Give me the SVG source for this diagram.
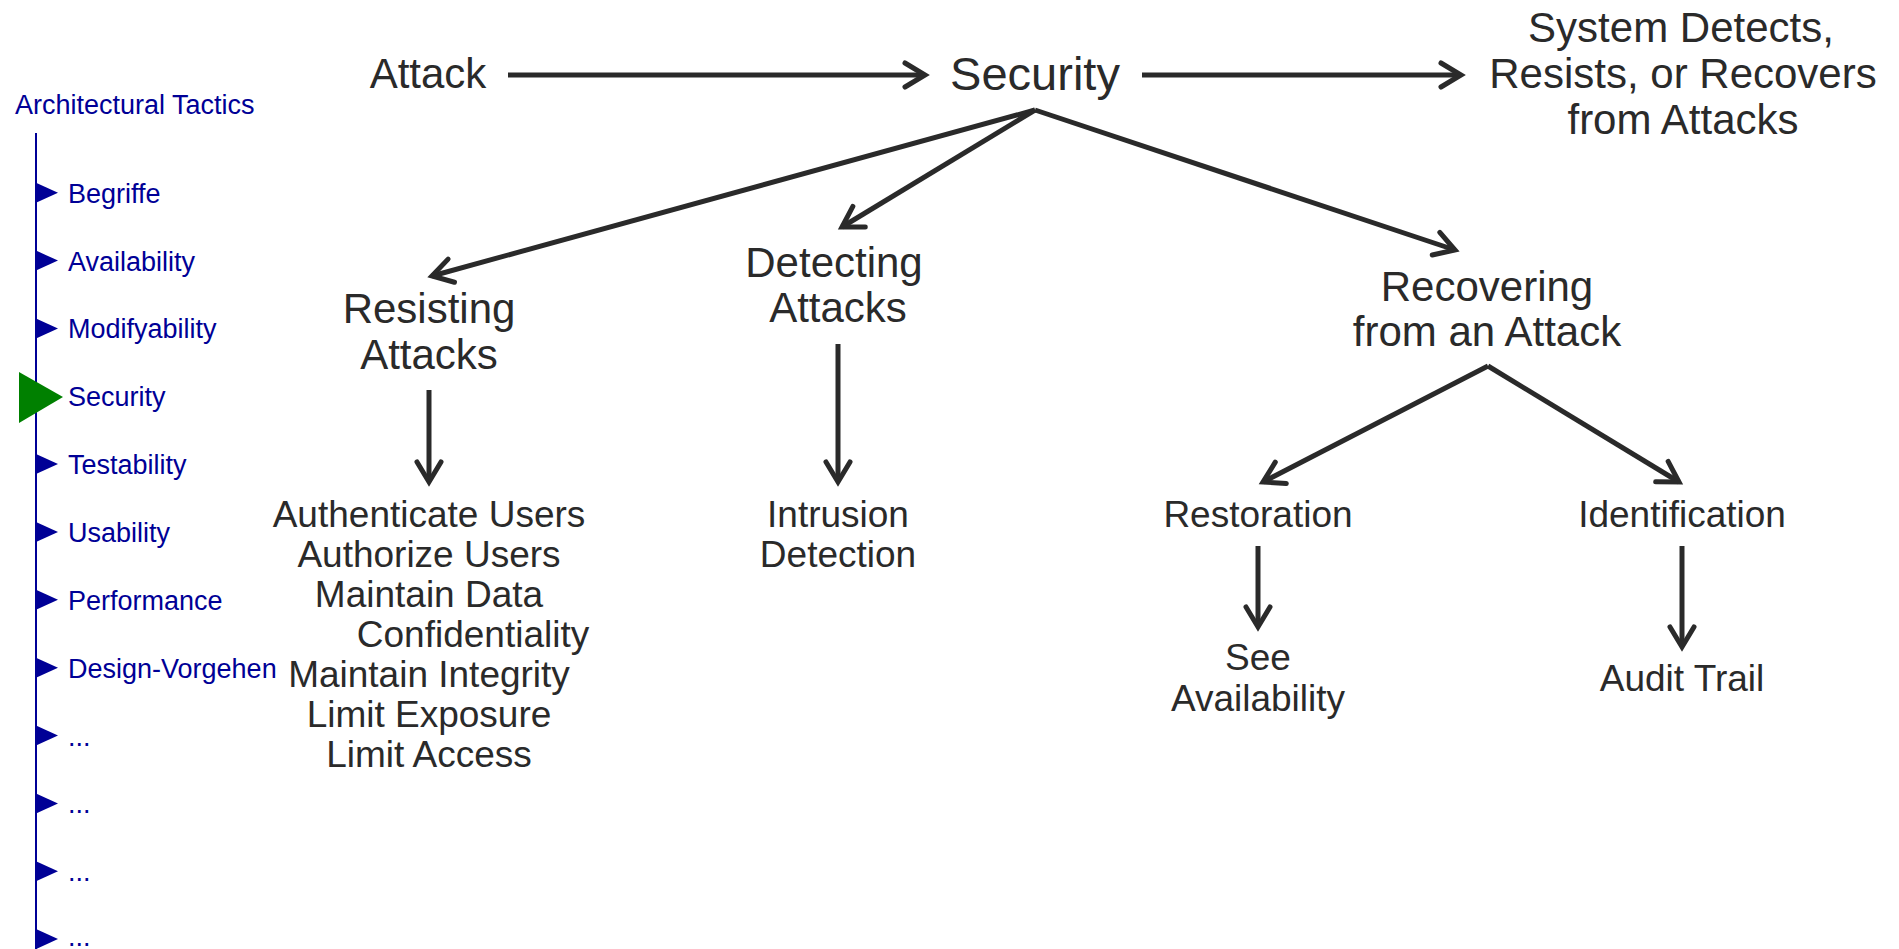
<svg xmlns="http://www.w3.org/2000/svg" width="1899" height="949" viewBox="0 0 1899 949">
<style>
.t{font-family:"Liberation Sans",Arial,sans-serif;fill:#2a2a2a;text-anchor:middle}
.big{font-size:42px}
.sec{font-size:47px}
.mid{font-size:37px}
.nav{font-family:"Liberation Sans",Arial,sans-serif;font-size:27px;fill:#000096}
.c{stroke:#2a2a2a;stroke-width:5;fill:none}
.tri{fill:#000096}
</style>
<defs>
<marker id="ah" viewBox="-26 -16 32 32" markerWidth="32" markerHeight="32" refX="0" refY="0" orient="auto" markerUnits="userSpaceOnUse">
<path d="M-20,-12 L0,0 L-20,12" fill="none" stroke="#2a2a2a" stroke-width="5" stroke-linecap="round" stroke-linejoin="miter"/>
</marker>
</defs>
<rect width="1899" height="949" fill="#ffffff"/>
<g id="sidebar">
<text class="nav" x="15" y="114">Architectural Tactics</text>
<line x1="36" y1="133" x2="36" y2="949" stroke="#000096" stroke-width="2"/>
<g id="nav-begriffe"><polygon class="tri" points="36,182.7 58,192.7 36,202.7"/><text class="nav" x="68" y="202.7">Begriffe</text></g>
<g id="nav-availability"><polygon class="tri" points="36,250.6 58,260.6 36,270.6"/><text class="nav" x="68" y="270.6">Availability</text></g>
<g id="nav-modifyability"><polygon class="tri" points="36,318.4 58,328.4 36,338.4"/><text class="nav" x="68" y="338.4">Modifyability</text></g>
<g id="nav-security"><polygon points="19,372 63,397 19,423" fill="#008000"/><text class="nav" x="68" y="406.3">Security</text></g>
<g id="nav-testability"><polygon class="tri" points="36,454.1 58,464.1 36,474.1"/><text class="nav" x="68" y="474.1">Testability</text></g>
<g id="nav-usability"><polygon class="tri" points="36,522 58,532 36,542"/><text class="nav" x="68" y="542">Usability</text></g>
<g id="nav-performance"><polygon class="tri" points="36,589.8 58,599.8 36,609.8"/><text class="nav" x="68" y="609.8">Performance</text></g>
<g id="nav-design"><polygon class="tri" points="36,657.7 58,667.7 36,677.7"/><text class="nav" x="68" y="677.7">Design-Vorgehen</text></g>
<g id="nav-more1"><polygon class="tri" points="36,725.5 58,735.5 36,745.5"/><text class="nav" x="68" y="745.5">...</text></g>
<g id="nav-more2"><polygon class="tri" points="36,793.4 58,803.4 36,813.4"/><text class="nav" x="68" y="813.4">...</text></g>
<g id="nav-more3"><polygon class="tri" points="36,861.2 58,871.2 36,881.2"/><text class="nav" x="68" y="881.2">...</text></g>
<g id="nav-more4"><polygon class="tri" points="36,929.1 58,939.1 36,949.1"/><text class="nav" x="68" y="946">...</text></g>
</g>
<g id="connectors">
<line class="c" x1="508" y1="75" x2="925" y2="75" marker-end="url(#ah)"/>
<line class="c" x1="1142" y1="75" x2="1461" y2="75" marker-end="url(#ah)"/>
<polyline class="c" points="1035,110 432,276" marker-end="url(#ah)"/>
<polyline class="c" points="1035,110 842,227" marker-end="url(#ah)"/>
<polyline class="c" points="1035,110 1455,250" marker-end="url(#ah)"/>
<line class="c" x1="429" y1="390" x2="429" y2="482" marker-end="url(#ah)"/>
<line class="c" x1="838" y1="344" x2="838" y2="482" marker-end="url(#ah)"/>
<polyline class="c" points="1488,366 1263,482" marker-end="url(#ah)"/>
<polyline class="c" points="1488,366 1679,482" marker-end="url(#ah)"/>
<line class="c" x1="1258" y1="546" x2="1258" y2="627" marker-end="url(#ah)"/>
<line class="c" x1="1682" y1="546" x2="1682" y2="647" marker-end="url(#ah)"/>
</g>
<g id="attack"><text class="t big" x="428" y="88">Attack</text></g>
<g id="security"><text class="t sec" x="1035" y="90">Security</text></g>
<g id="response"><text class="t big" x="1681" y="42">System Detects,</text><text class="t big" x="1683" y="88">Resists, or Recovers</text><text class="t big" x="1683" y="134">from Attacks</text></g>
<g id="resisting"><text class="t big" x="429" y="323">Resisting</text><text class="t big" x="429" y="369">Attacks</text></g>
<g id="detecting"><text class="t big" x="834" y="277">Detecting</text><text class="t big" x="838" y="322">Attacks</text></g>
<g id="recovering"><text class="t big" x="1487" y="301">Recovering</text><text class="t big" x="1487" y="346">from an Attack</text></g>
<g id="resisting-tactics">
<text class="t mid" x="429" y="527">Authenticate Users</text>
<text class="t mid" x="429" y="567">Authorize Users</text>
<text class="t mid" x="429" y="607">Maintain Data</text>
<text class="t mid" x="473" y="647">Confidentiality</text>
<text class="t mid" x="429" y="687">Maintain Integrity</text>
<text class="t mid" x="429" y="727">Limit Exposure</text>
<text class="t mid" x="429" y="767">Limit Access</text>
</g>
<g id="intrusion"><text class="t mid" x="838" y="527">Intrusion</text><text class="t mid" x="838" y="567">Detection</text></g>
<g id="restoration"><text class="t mid" x="1258" y="527">Restoration</text></g>
<g id="identification"><text class="t mid" x="1682" y="527">Identification</text></g>
<g id="see-availability"><text class="t mid" x="1258" y="670">See</text><text class="t mid" x="1258" y="711">Availability</text></g>
<g id="audit-trail"><text class="t mid" x="1682" y="691">Audit Trail</text></g>
</svg>
